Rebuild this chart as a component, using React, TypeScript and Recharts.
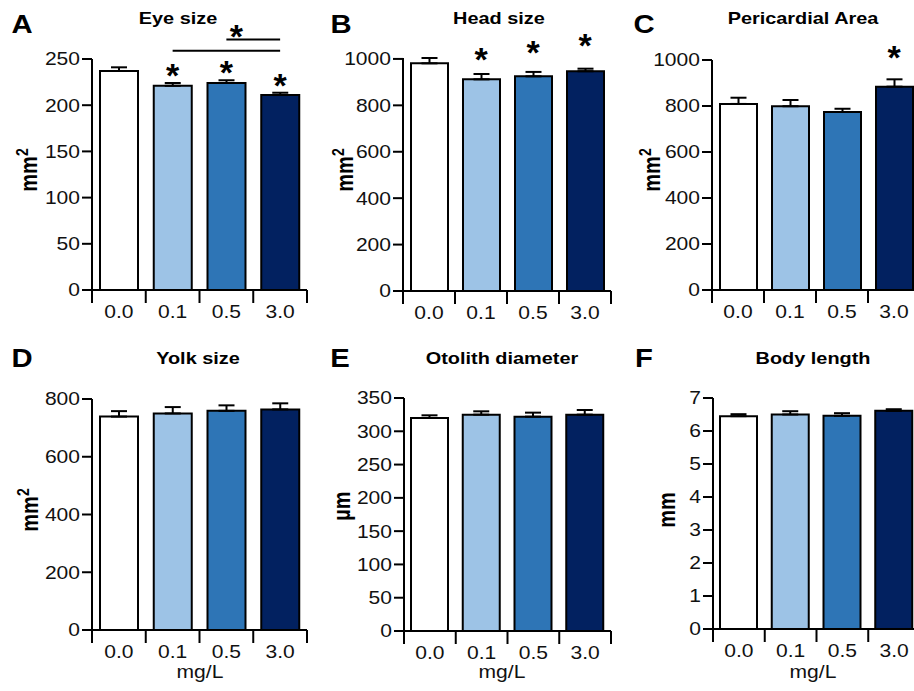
import React from "react";
import {
  BarChart,
  Bar,
  XAxis,
  YAxis,
  ErrorBar,
  Cell,
  ReferenceLine,
  ReferenceDot,
} from "recharts";

const FONT = "'Liberation Sans', Arial, Helvetica, sans-serif";
// the original figure is slightly stretched horizontally
const STRETCH = 1.17;

const doses = ["0.0", "0.1", "0.5", "3.0"];
const barColors = ["#ffffff", "#9dc3e6", "#2e75b6", "#022160"];

const eyeSize = [237, 221, 224, 211];
const eyeSizeErr = [4, 3, 3, 2.5];
const eyeSizeStars = [null, 240, 244, 229];
const eyeSizeTicks = [0, 50, 100, 150, 200, 250];
// [from, to, height] of the comparison brackets
const eyeSizeBrackets: [string, string, number][] = [
  ["0.1", "3.0", 259],
  ["0.5", "3.0", 271],
];
const eyeSizeBracketStar = 283;

const headSize = [981, 912, 925, 947];
const headSizeErr = [23, 23, 19, 11];
const headSizeStars = [null, 1030, 1060, 1090];
const headSizeTicks = [0, 200, 400, 600, 800, 1000];

const pericardial = [809, 799, 774, 884];
const pericardialErr = [27, 27, 14, 32];
const pericardialStars = [null, null, null, 1043];
const pericardialTicks = [0, 200, 400, 600, 800, 1000];

const yolkSize = [739, 750, 759, 764];
const yolkSizeErr = [19, 22, 19, 21];
const yolkSizeTicks = [0, 200, 400, 600, 800];

const otolith = [320, 325, 322, 325];
const otolithErr = [4, 5, 6, 7];
const otolithTicks = [0, 50, 100, 150, 200, 250, 300, 350];

const bodyLength = [6.45, 6.5, 6.46, 6.61];
const bodyLengthErr = [0.06, 0.1, 0.08, 0.05];
const bodyLengthTicks = [0, 1, 2, 3, 4, 5, 6, 7];

const noStars = [null, null, null, null];

type Spec = {
  id: string;
  title: string;
  unit: string;
  sup?: string;
  values: number[];
  errs: number[];
  stars: (number | null)[];
  ticks: number[];
  brackets?: [string, string, number][];
  bracketStar?: number;
  xLabel?: boolean;
};

const panels: Spec[] = [
  { id: "A", title: "Eye size", unit: "mm", sup: "2", values: eyeSize, errs: eyeSizeErr, stars: eyeSizeStars, ticks: eyeSizeTicks, brackets: eyeSizeBrackets, bracketStar: eyeSizeBracketStar },
  { id: "B", title: "Head size", unit: "mm", sup: "2", values: headSize, errs: headSizeErr, stars: headSizeStars, ticks: headSizeTicks },
  { id: "C", title: "Pericardial Area", unit: "mm", sup: "2", values: pericardial, errs: pericardialErr, stars: pericardialStars, ticks: pericardialTicks },
  { id: "D", title: "Yolk size", unit: "mm", sup: "2", values: yolkSize, errs: yolkSizeErr, stars: noStars, ticks: yolkSizeTicks, xLabel: true },
  { id: "E", title: "Otolith diameter", unit: "µm", values: otolith, errs: otolithErr, stars: noStars, ticks: otolithTicks, xLabel: true },
  { id: "F", title: "Body length", unit: "mm", values: bodyLength, errs: bodyLengthErr, stars: noStars, ticks: bodyLengthTicks, xLabel: true },
];

// placement of each panel on the page
const frames: Record<string, any> = {
  A: { left: 0, top: 0, width: 309, height: 340, mt: 59, yw: 92, xh: 50, bar: 38, letter: [22, 24], title: [178, 18], unit: [29, 170] },
  B: { left: 307, top: 0, width: 306, height: 340, mt: 58, yw: 96, xh: 49, bar: 37, letter: [341, 24], title: [499, 18], unit: [345, 170] },
  C: { left: 611, top: 0, width: 311, height: 340, mt: 60, yw: 101, xh: 50, bar: 37, letter: [644, 24], title: [803, 18], unit: [652, 170] },
  D: { left: 0, top: 340, width: 309, height: 351, mt: 59, yw: 92, xh: 61, bar: 38, letter: [22, 358], title: [198, 358], unit: [30, 510], xl: [200, 672] },
  E: { left: 307, top: 340, width: 306, height: 351, mt: 58, yw: 97, xh: 60, bar: 37, letter: [340, 358], title: [502, 358], unit: [342, 506], xl: [502, 672] },
  F: { left: 611, top: 340, width: 311, height: 351, mt: 58, yw: 102, xh: 62, bar: 37, letter: [644, 358], title: [813, 358], unit: [667, 510], xl: [813, 672] },
};

function DoseTick(props: any) {
  const { x, y, payload, index, half, last } = props;
  return (
    <g>
      <line x1={x - half} y1={y} x2={x - half} y2={y + 13} stroke="#000" strokeWidth={2} />
      {index === last && (
        <line x1={x + half} y1={y} x2={x + half} y2={y + 13} stroke="#000" strokeWidth={2} />
      )}
      <text
        transform={`translate(${x},${y + 28}) scale(${STRETCH},1)`}
        textAnchor="middle"
        fontSize={18}
        fontFamily={FONT}
        fill="#111"
      >
        {payload.value}
      </text>
    </g>
  );
}

function ValueTick(props: any) {
  const { x, y, payload } = props;
  return (
    <text
      transform={`translate(${x},${y}) scale(${STRETCH},1)`}
      textAnchor="end"
      dy="0.36em"
      fontSize={18}
      fontFamily={FONT}
      fill="#111"
    >
      {payload.value}
    </text>
  );
}

const starShape = (dx: number) => (p: any) => (
  <text
    x={p.cx + dx}
    y={p.cy}
    dy="0.56em"
    textAnchor="middle"
    fontSize={34}
    fontWeight="bold"
    fontFamily={FONT}
    fill="#000"
  >
    *
  </text>
);

function Panel({ spec }: { spec: Spec }) {
  const f = frames[spec.id];
  const data = doses.map((dose, i) => ({
    dose,
    value: spec.values[i],
    err: [0, spec.errs[i]],
    star: spec.stars[i],
  }));
  const half = (f.width - f.yw - 2) / doses.length / 2;
  const max = spec.ticks[spec.ticks.length - 1];
  return (
    <div style={{ position: "absolute", left: f.left, top: f.top }}>
      <BarChart
        width={f.width}
        height={f.height}
        data={data}
        margin={{ top: f.mt, right: 2, bottom: 0, left: 0 }}
      >
        <XAxis
          dataKey="dose"
          height={f.xh}
          interval={0}
          tickLine={false}
          tickSize={0}
          tickMargin={0}
          axisLine={{ stroke: "#000", strokeWidth: 2 }}
          tick={(p: any) => <DoseTick {...p} half={half} last={doses.length - 1} />}
        />
        <YAxis
          type="number"
          domain={[0, max]}
          ticks={spec.ticks}
          interval={0}
          width={f.yw}
          tickSize={10}
          tickMargin={2}
          axisLine={{ stroke: "#000", strokeWidth: 2 }}
          tickLine={{ stroke: "#000", strokeWidth: 2 }}
          tick={(p: any) => <ValueTick {...p} />}
        />
        <Bar
          dataKey="value"
          barSize={f.bar}
          stroke="#000"
          strokeWidth={2}
          isAnimationActive={false}
        >
          {data.map((d, i) => (
            <Cell key={d.dose} fill={barColors[i]} />
          ))}
          <ErrorBar
            dataKey="err"
            direction="y"
            width={8}
            stroke="#000"
            strokeWidth={2}
            isAnimationActive={false}
          />
        </Bar>
        {(spec.brackets || []).map((b) => (
          <ReferenceLine
            key={b.join("-")}
            segment={[
              { x: b[0], y: b[2] },
              { x: b[1], y: b[2] },
            ]}
            stroke="#000"
            strokeWidth={2}
            ifOverflow="visible"
          />
        ))}
        {spec.bracketStar != null && (
          <ReferenceDot
            x="0.5"
            y={spec.bracketStar}
            r={4}
            ifOverflow="visible"
            shape={starShape(10)}
          />
        )}
        {data
          .filter((d) => d.star != null)
          .map((d) => (
            <ReferenceDot
              key={d.dose}
              x={d.dose}
              y={d.star as number}
              r={4}
              ifOverflow="visible"
              shape={starShape(0)}
            />
          ))}
      </BarChart>
    </div>
  );
}

const centered = (x: number, y: number, extra = ""): React.CSSProperties => ({
  position: "absolute",
  left: x,
  top: y,
  transform: `translate(-50%, -50%) ${extra}`,
  whiteSpace: "nowrap",
  lineHeight: 1,
  color: "#000",
});

export default function App() {
  return (
    <div
      style={{
        position: "absolute",
        left: 0,
        top: 0,
        width: 914,
        height: 691,
        overflow: "hidden",
        background: "#fff",
        fontFamily: FONT,
      }}
    >
      {panels.map((s) => (
        <Panel key={s.id} spec={s} />
      ))}
      {panels.map((s) => {
        const f = frames[s.id];
        return (
          <React.Fragment key={s.id + "-text"}>
            <div style={{ ...centered(f.letter[0], f.letter[1], `scale(${STRETCH},1)`), fontSize: 25, fontWeight: "bold" }}>
              {s.id}
            </div>
            <div style={{ ...centered(f.title[0], f.title[1], `scale(${STRETCH},1)`), fontSize: 17, fontWeight: "bold" }}>
              {s.title}
            </div>
            <div style={{ ...centered(f.unit[0], f.unit[1], `rotate(-90deg) scale(1,${STRETCH})`), fontSize: 20, fontWeight: "bold" }}>
              {s.unit}
              {s.sup && (
                <span style={{ fontSize: "0.7em", position: "relative", top: "-0.6em" }}>{s.sup}</span>
              )}
            </div>
            {s.xLabel && (
              <div style={{ ...centered(f.xl[0], f.xl[1], `scale(${STRETCH},1)`), fontSize: 18, color: "#111" }}>
                mg/L
              </div>
            )}
          </React.Fragment>
        );
      })}
    </div>
  );
}
